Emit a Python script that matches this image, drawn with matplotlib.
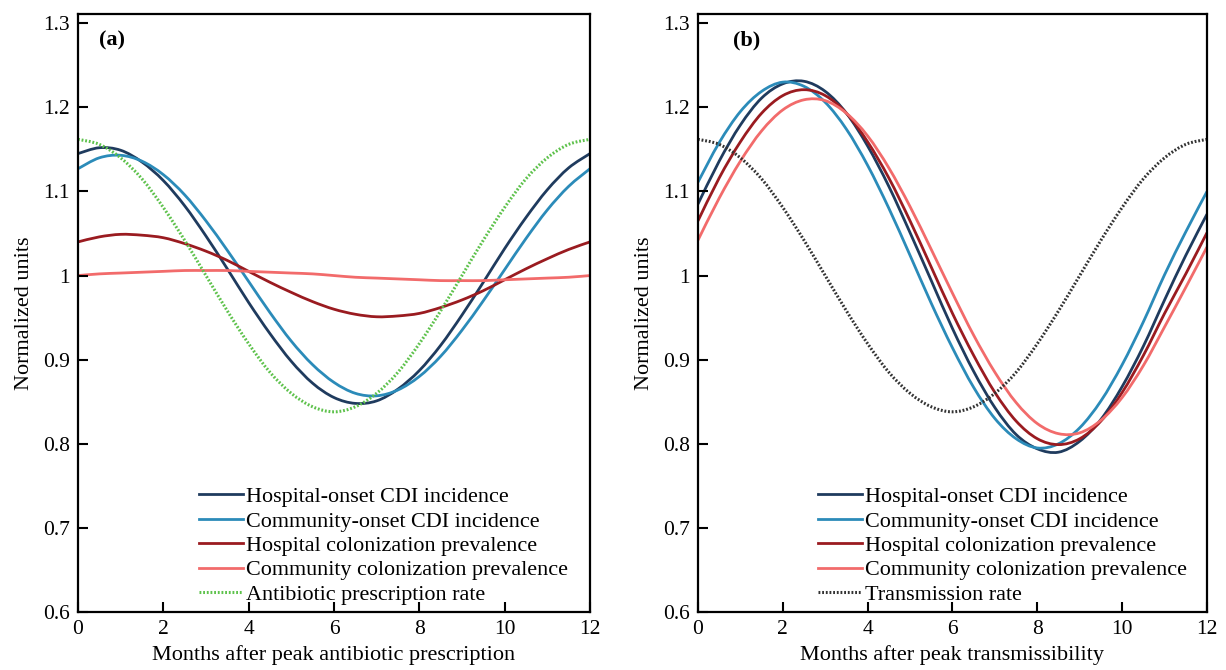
import matplotlib
matplotlib.use('Agg')
from matplotlib import pyplot as plt
import matplotlib.ticker as ticker
from matplotlib.path import Path
from matplotlib.patches import PathPatch
from matplotlib.lines import Line2D

plt.rcParams['font.family'] = ['Liberation Serif', 'DejaVu Serif']

# months, every half month
months = [0, 0.5, 1, 1.5, 2, 2.5, 3, 3.5, 4, 4.5, 5, 5.5, 6, 6.5, 7, 7.5, 8, 8.5, 9, 9.5, 10, 10.5, 11, 11.5, 12]

# panel (a): months after peak antibiotic prescription
a_hosp_cdi = [1.145, 1.152, 1.149, 1.135, 1.113, 1.083, 1.047, 1.008, 0.968, 0.931, 0.898, 0.872, 0.855,
              0.848, 0.851, 0.865, 0.887, 0.917, 0.953, 0.992, 1.032, 1.069, 1.102, 1.128, 1.145]
a_comm_cdi = [1.127, 1.140, 1.143, 1.136, 1.120, 1.096, 1.065, 1.030, 0.993, 0.956, 0.922, 0.894, 0.873,
              0.860, 0.857, 0.864, 0.880, 0.904, 0.935, 0.970, 1.007, 1.044, 1.078, 1.106, 1.127]
a_hosp_col = [1.040, 1.046, 1.049, 1.048, 1.045, 1.038, 1.029, 1.018, 1.005, 0.992, 0.980, 0.969, 0.960,
              0.954, 0.951, 0.952, 0.955, 0.962, 0.971, 0.982, 0.995, 1.008, 1.020, 1.031, 1.040]
a_comm_col = [1.000, 1.002, 1.003, 1.004, 1.005, 1.006, 1.006, 1.006, 1.005, 1.004, 1.003, 1.002, 1.000,
              0.998, 0.997, 0.996, 0.995, 0.994, 0.994, 0.994, 0.995, 0.996, 0.997, 0.998, 1.000]
a_antibiotic = [1.162, 1.156, 1.140, 1.115, 1.081, 1.042, 1.000, 0.958, 0.919, 0.885, 0.860, 0.844, 0.838,
                0.844, 0.860, 0.885, 0.919, 0.958, 1.000, 1.042, 1.081, 1.115, 1.140, 1.156, 1.162]

# panel (b): months after peak transmissibility
b_hosp_cdi = [1.085, 1.136, 1.179, 1.211, 1.228, 1.231, 1.219, 1.193, 1.154, 1.106, 1.051, 0.994, 0.937,
              0.886, 0.843, 0.811, 0.794, 0.790, 0.803, 0.829, 0.868, 0.916, 0.971, 1.024, 1.073]
b_comm_cdi = [1.111, 1.158, 1.195, 1.219, 1.230, 1.225, 1.206, 1.174, 1.131, 1.080, 1.024, 0.967, 0.914,
              0.867, 0.830, 0.806, 0.795, 0.800, 0.819, 0.851, 0.894, 0.945, 1.001, 1.052, 1.100]
b_hosp_col = [1.065, 1.116, 1.159, 1.193, 1.214, 1.221, 1.214, 1.193, 1.159, 1.116, 1.065, 1.010, 0.955,
              0.905, 0.861, 0.827, 0.806, 0.799, 0.806, 0.827, 0.861, 0.905, 0.955, 1.002, 1.051]
b_comm_col = [1.042, 1.092, 1.136, 1.172, 1.197, 1.209, 1.208, 1.193, 1.166, 1.128, 1.082, 1.031, 0.979,
              0.929, 0.885, 0.849, 0.824, 0.812, 0.813, 0.828, 0.855, 0.893, 0.939, 0.986, 1.034]
b_transmission = [1.162, 1.156, 1.140, 1.115, 1.081, 1.042, 1.000, 0.958, 0.919, 0.885, 0.860, 0.844, 0.838,
                  0.844, 0.860, 0.885, 0.919, 0.958, 1.000, 1.042, 1.081, 1.115, 1.140, 1.156, 1.162]

names = ['Hospital-onset CDI incidence', 'Community-onset CDI incidence',
         'Hospital colonization prevalence', 'Community colonization prevalence']
colors = ['#1f3b5e', '#2b8bb9', '#9a1b20', '#f26b6b']

yticks = [0.6, 0.7, 0.8, 0.9, 1.0, 1.1, 1.2, 1.3]
ytick_labels = ['0.6', '0.7', '0.8', '0.9', '1', '1.1', '1.2', '1.3']
xticks = [0, 2, 4, 6, 8, 10, 12]

dots = (0, (0.6, 0.6))


def smooth_line(ax, x, y, color, lw, ls='-'):
    # catmull-rom curve through the points, drawn as bezier segments
    n = len(x)
    verts = [(x[0], y[0])]
    codes = [Path.MOVETO]
    for i in range(n - 1):
        i0, i3 = max(i - 1, 0), min(i + 2, n - 1)
        verts.append((x[i] + (x[i + 1] - x[i0]) / 6, y[i] + (y[i + 1] - y[i0]) / 6))
        verts.append((x[i + 1] - (x[i3] - x[i]) / 6, y[i + 1] - (y[i3] - y[i]) / 6))
        verts.append((x[i + 1], y[i + 1]))
        codes += [Path.CURVE4] * 3
    ax.add_patch(PathPatch(Path(verts, codes), facecolor='none', edgecolor=color, lw=lw, linestyle=ls))
    return Line2D([], [], color=color, lw=lw, linestyle=ls)


fig = plt.figure(figsize=(12.26, 6.70), dpi=100)
ax_a = fig.add_axes([0.0636, 0.0866, 0.4176, 0.8925])
ax_b = fig.add_axes([0.5693, 0.0866, 0.4152, 0.8925])

handles_a = []
for ser, col in zip([a_hosp_cdi, a_comm_cdi, a_hosp_col, a_comm_col], colors):
    handles_a.append(smooth_line(ax_a, months, ser, col, 2))
handles_a.append(smooth_line(ax_a, months, a_antibiotic, '#5ec24c', 2.2, dots))

handles_b = []
for ser, col in zip([b_hosp_cdi, b_comm_cdi, b_hosp_col, b_comm_col], colors):
    handles_b.append(smooth_line(ax_b, months, ser, col, 2))
handles_b.append(smooth_line(ax_b, months, b_transmission, '#333333', 2.2, dots))

panels = [(ax_a, '(a)', 0.041, 'Months after peak antibiotic prescription', handles_a,
           names + ['Antibiotic prescription rate']),
          (ax_b, '(b)', 0.069, 'Months after peak transmissibility', handles_b,
           names + ['Transmission rate'])]

for ax, letter, lx, xlab, handles, labels in panels:
    ax.set_xlim(0, 12)
    ax.set_ylim(0.6, 1.311)
    ax.set_xticks(xticks)
    ax.yaxis.set_major_locator(ticker.FixedLocator(yticks))
    ax.yaxis.set_major_formatter(ticker.FixedFormatter(ytick_labels))
    ax.tick_params(direction='in', length=7, width=1.5, labelsize=15.5, pad=6)
    for sp in ax.spines.values():
        sp.set_linewidth(1.6)
    ax.set_xlabel(xlab, fontsize=16, labelpad=4)
    ax.set_ylabel('Normalized units', fontsize=16, labelpad=6)
    ax.text(lx, 0.955, letter, transform=ax.transAxes, fontsize=16, fontweight='bold', va='center')
    ax.legend(handles, labels, loc='lower left', bbox_to_anchor=(0.236, 0.012), frameon=False,
              fontsize=15.9, handlelength=1.98, handletextpad=0.15, labelspacing=0.18,
              borderpad=0, borderaxespad=0)

plt.savefig('out.png', dpi=100)
